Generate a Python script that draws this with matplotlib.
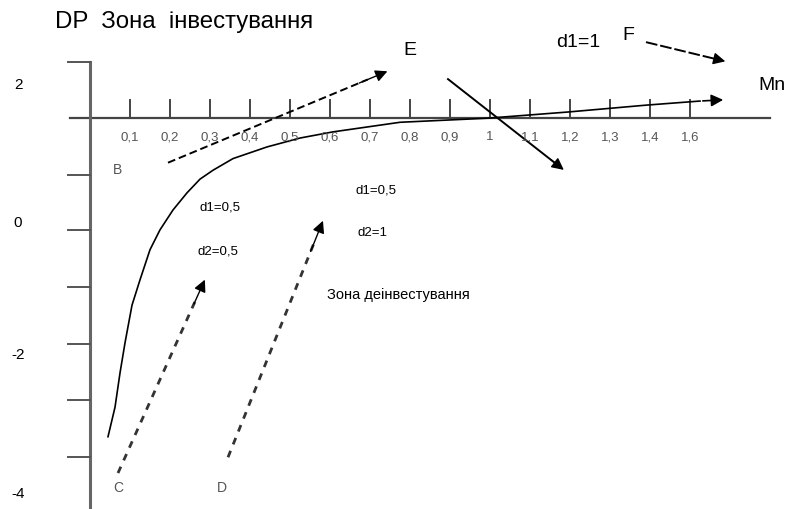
import matplotlib.pyplot as plt

plt.rcParams['font.family'] = ['Liberation Sans', 'DejaVu Sans']

# curve Mn -> DP
curve_x = [0.045, 0.0625, 0.075, 0.0875, 0.105, 0.125, 0.15, 0.175, 0.2075, 0.2425,
           0.275, 0.3075, 0.3575, 0.4425, 0.525, 0.6075, 0.775, 0.995, 1.195, 1.39, 1.525]
curve_y = [-3.12, -2.69, -2.19, -1.75, -1.20, -0.83, -0.39, -0.10, 0.19, 0.44,
           0.64, 0.77, 0.94, 1.11, 1.24, 1.33, 1.47, 1.53, 1.62, 1.72, 1.78]
curve_tip = (1.59, 1.80)

# horizontal axis ticks
mn_ticks = [0.1, 0.2, 0.3, 0.4, 0.5, 0.6, 0.7, 0.8, 0.9, 1.0, 1.1, 1.2, 1.3, 1.4, 1.5]
mn_labels = ['0,1', '0,2', '0,3', '0,4', '0,5', '0,6', '0,7', '0,8', '0,9',
             '1', '1,1', '1,2', '1,3', '1,4', '1,6']
axis_level = 1.53

# vertical axis
dp_labels = ['2', '0', '-2', '-4']
dp_label_pos = [2.02, 0.0, -1.92, -3.95]
dp_ticks = [2.35, 0.70, -0.10, -0.93, -1.77, -2.58, -3.42]

# arrows: (start, tip)
arrow_B = ((0.195, 0.88), (0.75, 2.23))
arrow_E = ((0.895, 2.10), (1.19, 0.75))
arrow_F = ((1.39, 2.64), (1.595, 2.35))
arrow_C = ((0.07, -3.65), (0.29, -0.79))
arrow_D = ((0.345, -3.42), (0.585, 0.07))

fig = plt.figure(figsize=(7.87, 5.09), dpi=100)
ax = fig.add_axes([0, 0, 1, 1])
ax.set_xlim(-0.225, 1.7425)
ax.set_ylim(-4.175, 3.255)
ax.axis('off')

axis_col = '#444444'

# axes lines
ax.plot([-0.05, 1.70], [axis_level, axis_level], color=axis_col, lw=1.6)
ax.plot([0, 0], [2.35, -4.3], color='#666666', lw=2.2)
for t in mn_ticks:
    ax.plot([t, t], [axis_level, 1.80], color=axis_col, lw=1.4)
for t in dp_ticks:
    ax.plot([-0.055, 0], [t, t], color='#555555', lw=1.4)

for t, lab in zip(mn_ticks, mn_labels):
    ax.text(t, 1.25, lab, ha='center', va='center', fontsize=9.5, color='#555555')
for y, lab in zip(dp_label_pos, dp_labels):
    ax.text(-0.18, y, lab, ha='center', va='center', fontsize=11)

# curve
ax.plot(curve_x, curve_y, color='black', lw=1.2)
ax.annotate('', xy=curve_tip, xytext=(curve_x[-1], curve_y[-1]),
            arrowprops=dict(arrowstyle='-|>', color='black', lw=1.2, mutation_scale=18))


def draw_arrow(start, tip, style, lw, col):
    (x0, y0), (x1, y1) = start, tip
    ax.plot([x0, x0 + 0.9 * (x1 - x0)], [y0, y0 + 0.9 * (y1 - y0)],
            color=col, lw=lw, linestyle=style)
    ax.annotate('', xy=tip, xytext=(x0 + 0.85 * (x1 - x0), y0 + 0.85 * (y1 - y0)),
                arrowprops=dict(arrowstyle='-|>', color='black', lw=1, mutation_scale=18))


draw_arrow(*arrow_B, (0, (4, 2)), 1.4, 'black')
draw_arrow(*arrow_E, '-', 1.4, 'black')
draw_arrow(*arrow_F, (0, (6, 1.5)), 1.4, 'black')
draw_arrow(*arrow_C, (0, (2.5, 2.5)), 2.0, '#333333')
draw_arrow(*arrow_D, (0, (2.5, 2.5)), 2.0, '#333333')

# texts
ax.text(-0.0875, 2.93, 'DP  Зона  інвестування', ha='left', va='center', fontsize=17.3)
ax.text(0.8, 2.52, 'E', ha='center', va='center', fontsize=14)
ax.text(1.22, 2.64, 'd1=1', ha='center', va='center', fontsize=14)
ax.text(1.345, 2.74, 'F', ha='center', va='center', fontsize=14)
ax.text(1.74, 2.00, 'Mn', ha='right', va='center', fontsize=14)
ax.text(0.0675, 0.77, 'B', ha='center', va='center', fontsize=10, color='#555555')
ax.text(0.07, -3.87, 'C', ha='center', va='center', fontsize=10, color='#555555')
ax.text(0.33, -3.87, 'D', ha='center', va='center', fontsize=10, color='#555555')
ax.text(0.325, 0.22, 'd1=0,5', ha='center', va='center', fontsize=9.5)
ax.text(0.32, -0.42, 'd2=0,5', ha='center', va='center', fontsize=9.5)
ax.text(0.715, 0.48, 'd1=0,5', ha='center', va='center', fontsize=9.5)
ax.text(0.705, -0.15, 'd2=1', ha='center', va='center', fontsize=9.5)
ax.text(0.77, -1.05, 'Зона деінвестування', ha='center', va='center', fontsize=10.5)

fig.savefig('out.png', dpi=100)
